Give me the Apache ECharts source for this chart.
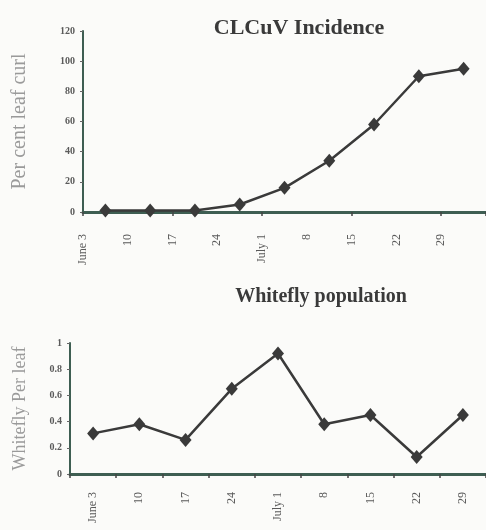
<!DOCTYPE html>
<html><head><meta charset="utf-8">
<script src="https://cdn.jsdelivr.net/npm/echarts@6/dist/echarts.min.js"></script>
<style>html,body{margin:0;padding:0;background:#fbfbf9}#c{width:486px;height:530px}</style>
</head><body><div id="c"></div>
<script>
const dates = ['June 3','10','17','24','July 1','8','15','22','29'];
const leafCurl = [1, 1, 1, 5, 16, 34, 58, 90, 95];
const whitefly = [0.31, 0.38, 0.26, 0.65, 0.92, 0.38, 0.45, 0.13, 0.45];
const topTicks = [0, 20, 40, 60, 80, 100, 120];
const bottomTicks = [0, 0.2, 0.4, 0.6, 0.8, 1];

const axisCol = '#3e5e52';
const txt = '#5a5a5a';
const serif = 'Liberation Serif, Times New Roman, serif';
const chart = echarts.init(document.getElementById('c'));
chart.setOption({
  backgroundColor: '#fbfbf9',
  animation: false,
  title: [
    {text: 'CLCuV Incidence', left: 294, top: 12, textAlign: 'center',
     textStyle: {fontFamily: serif, fontWeight: 'bold', fontSize: 22, color: '#3a3a3a'}},
    {text: 'Whitefly population', left: 316, top: 282, textAlign: 'center',
     textStyle: {fontFamily: serif, fontWeight: 'bold', fontSize: 20, color: '#3a3a3a'}}
  ],
  grid: [
    {left: 83, right: 0, top: 31, bottom: 318},
    {left: 70, right: 0, top: 343, bottom: 56}
  ],
  xAxis: [
    {gridIndex: 0, type: 'category', data: dates, boundaryGap: true,
     axisLine: {lineStyle: {color: axisCol, width: 3}},
     axisTick: {show: true, length: 4, lineStyle: {color: '#444', width: 1.5}},
     axisLabel: {show: false}},
    {gridIndex: 0, type: 'category', data: dates.concat(['']), boundaryGap: false,
     position: 'bottom',
     axisLine: {show: false}, axisTick: {show: false},
     axisLabel: {rotate: 90, margin: 22, fontFamily: serif, fontSize: 12, color: txt, interval: 0}},
    {gridIndex: 1, type: 'category', data: dates, boundaryGap: true,
     axisLine: {lineStyle: {color: axisCol, width: 3}},
     axisTick: {show: true, length: 4, lineStyle: {color: '#444', width: 1.5}},
     axisLabel: {rotate: 90, margin: 18, fontFamily: serif, fontSize: 12, color: txt, interval: 0}}
  ],
  yAxis: [
    {gridIndex: 0, type: 'value', min: topTicks[0], max: topTicks[topTicks.length-1], interval: 20,
     name: 'Per cent leaf curl', nameLocation: 'middle', nameGap: 53,
     nameTextStyle: {fontFamily: serif, fontSize: 20, color: '#9a9a9a'},
     axisLine: {show: true, lineStyle: {color: axisCol, width: 2}},
     axisTick: {show: true, length: 3, lineStyle: {color: '#666'}},
     splitLine: {show: false},
     axisLabel: {fontFamily: serif, fontSize: 10, fontWeight: 'bold', color: txt, margin: 8}},
    {gridIndex: 1, type: 'value', min: bottomTicks[0], max: bottomTicks[bottomTicks.length-1], interval: 0.2,
     name: 'Whitefly Per leaf', nameLocation: 'middle', nameGap: 41,
     nameTextStyle: {fontFamily: serif, fontSize: 18, color: '#9a9a9a'},
     axisLine: {show: true, lineStyle: {color: axisCol, width: 2}},
     axisTick: {show: true, length: 3, lineStyle: {color: '#666'}},
     splitLine: {show: false},
     axisLabel: {fontFamily: serif, fontSize: 10, fontWeight: 'bold', color: txt, margin: 8}}
  ],
  series: [
    {type: 'line', xAxisIndex: 0, yAxisIndex: 0, data: leafCurl,
     symbol: 'diamond', symbolSize: [12, 14],
     lineStyle: {color: '#3a3a3a', width: 2.5},
     itemStyle: {color: '#3a3a3a'}},
    {type: 'line', xAxisIndex: 2, yAxisIndex: 1, data: whitefly,
     symbol: 'diamond', symbolSize: [12, 14],
     lineStyle: {color: '#3a3a3a', width: 2.5},
     itemStyle: {color: '#3a3a3a'}}
  ]
});
</script></body></html>
